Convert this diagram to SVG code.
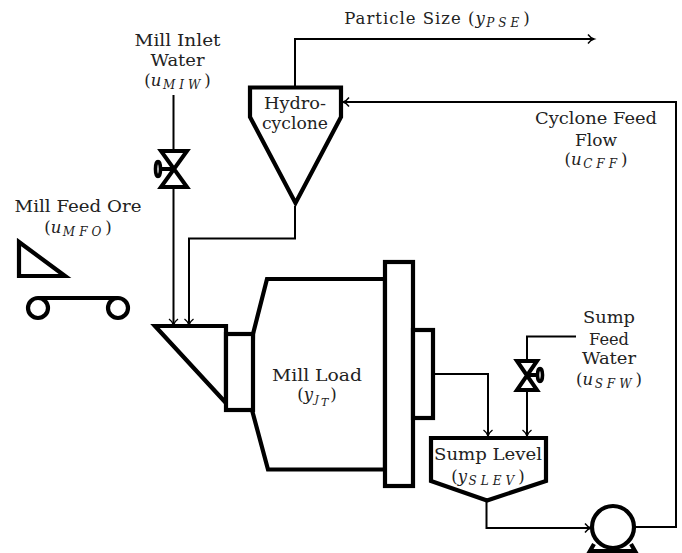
<svg xmlns="http://www.w3.org/2000/svg" width="682" height="553" viewBox="0 0 682 553">
<defs>
<marker id="arr" markerUnits="userSpaceOnUse" markerWidth="12" markerHeight="12" refX="9" refY="6" orient="auto"><path d="M3 1.500Q5.500 5 9 6Q5.500 7 3 10.500" fill="none" stroke="#000" stroke-width="1.400"/></marker>
</defs>
<style>
text{font-family:"DejaVu Serif","Liberation Serif",serif;font-size:16.500px;fill:#222;text-anchor:middle}
.m{font-style:italic;font-size:16.500px;letter-spacing:1.500px}
.s{font-style:italic;font-size:12px;letter-spacing:4px}
.t{font-style:italic;font-size:11px;letter-spacing:2px}
.p{letter-spacing:1px}
.h{fill:#fff;stroke:#000;stroke-width:4.200;stroke-linejoin:miter;stroke-miterlimit:10}
.c{fill:none;stroke:#000;stroke-width:2}
.v{fill:none;stroke:#000;stroke-width:4;stroke-miterlimit:10}
</style>
<rect width="682" height="553" fill="#fff"/>
<g id="connectors">
<path class="c" d="M173.500 95V150M173.500 188V325" marker-end="url(#arr)"/>
<path class="c" d="M295 206V238.500H189V325" marker-end="url(#arr)"/>
<path class="c" d="M295 87V39H594" marker-end="url(#arr)"/>
<path class="c" d="M634 527H676V102H343" marker-end="url(#arr)"/>
<path class="c" d="M433 374H488V436" marker-end="url(#arr)"/>
<path class="c" d="M576 336.500H527V360M527 391V436" marker-end="url(#arr)"/>
<path class="c" d="M486.500 501V528H591" marker-end="url(#arr)"/>
</g>
<g id="hydrocyclone">
<path class="h" d="M250 87.500H341V117L295.500 203L250 117Z"/>
<text x="295" y="109" textLength="62" lengthAdjust="spacingAndGlyphs">Hydro-</text>
<text x="295" y="129" textLength="66" lengthAdjust="spacingAndGlyphs">cyclone</text>
</g>
<g id="mill-inlet-valve">
<path class="v" d="M161 151H187L161 187H187Z"/>
<path class="v" d="M160 169H174"/>
<ellipse cx="158" cy="169" rx="2.500" ry="7.500" fill="#fff" stroke="#000" stroke-width="3.600"/>
</g>
<g id="mill-inlet-label">
<text x="177.500" y="45.500" textLength="86" lengthAdjust="spacingAndGlyphs">Mill Inlet</text>
<text x="177.500" y="66" textLength="54" lengthAdjust="spacingAndGlyphs">Water</text>
<text x="177.500" y="85.500">(<tspan class="m">u</tspan><tspan class="s" dy="3">MIW</tspan><tspan dy="-3">)</tspan></text>
</g>
<g id="conveyor">
<path class="h" d="M19 242V276H65Z"/>
<path class="v" d="M38 298H118"/>
<circle cx="38" cy="308" r="10" class="h"/>
<circle cx="118" cy="308" r="10" class="h"/>
</g>
<g id="mill-feed-label">
<text x="78" y="212" textLength="127" lengthAdjust="spacingAndGlyphs">Mill Feed Ore</text>
<text x="78" y="233">(<tspan class="m">u</tspan><tspan class="s" dy="3">MFO</tspan><tspan dy="-3">)</tspan></text>
</g>
<g id="mill">
<path class="h" d="M253 334L267 279H385V469.500H268L252 410Z"/>
<path class="h" d="M155 326H226V403Z"/>
<rect class="h" x="226" y="334" width="27" height="76"/>
<rect class="h" x="385" y="262" width="28" height="224"/>
<rect class="h" x="413" y="330" width="20" height="88"/>
<text x="317" y="380.500" textLength="90" lengthAdjust="spacingAndGlyphs">Mill Load</text>
<text x="317" y="400">(<tspan class="m">y</tspan><tspan class="t" dy="3">J</tspan><tspan class="t" dy="3">T</tspan><tspan dy="-6">)</tspan></text>
</g>
<g id="sump-valve">
<path class="v" d="M517 361H537L517 390H537Z"/>
<path class="v" d="M527 375H539"/>
<ellipse cx="540" cy="375" rx="2.500" ry="6.500" fill="#fff" stroke="#000" stroke-width="3.600"/>
</g>
<g id="sump-label">
<text x="609" y="323" textLength="52" lengthAdjust="spacingAndGlyphs">Sump</text>
<text x="609" y="345" textLength="40" lengthAdjust="spacingAndGlyphs">Feed</text>
<text x="609" y="364" textLength="54" lengthAdjust="spacingAndGlyphs">Water</text>
<text x="609" y="385">(<tspan class="m">u</tspan><tspan class="s" dy="3">SFW</tspan><tspan dy="-3">)</tspan></text>
</g>
<g id="sump">
<path class="h" d="M431 438H546V481L487 500.500L431 481Z"/>
<text x="488" y="460" textLength="108" lengthAdjust="spacingAndGlyphs">Sump Level</text>
<text x="488" y="482">(<tspan class="m">y</tspan><tspan class="s" dy="3">SLEV</tspan><tspan dy="-3">)</tspan></text>
</g>
<g id="pump">
<path class="h" d="M594 544L590 551H635L631 544"/>
<circle cx="613" cy="527" r="21" class="h"/>
</g>
<g id="labels">
<text x="437" y="24"><tspan class="p">Particle Size (</tspan><tspan class="m">y</tspan><tspan class="s" dy="3">PSE</tspan><tspan dy="-3">)</tspan></text>
<text x="596" y="124" textLength="122" lengthAdjust="spacingAndGlyphs">Cyclone Feed</text>
<text x="596" y="145.500" textLength="42" lengthAdjust="spacingAndGlyphs">Flow</text>
<text x="596" y="165">(<tspan class="m">u</tspan><tspan class="s" dy="3">CFF</tspan><tspan dy="-3">)</tspan></text>
</g>
</svg>
